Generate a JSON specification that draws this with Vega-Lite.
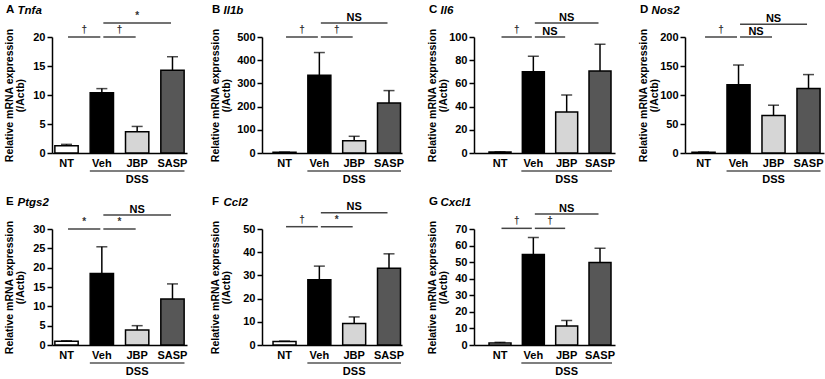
{
"$schema":"https://vega.github.io/schema/vega-lite/v6.json",
"padding":{"left":3,"top":3,"right":2,"bottom":0},
"background":"white",
"config":{"view":{"stroke":null},"font":"Liberation Sans",
"title":{"font":"Liberation Sans","fontSize":11.5,"fontWeight":"bold","anchor":"start","frame":"bounds","color":"black","offset":0,"baseline":"alphabetic","dy":15,"dx":2},
"axis":{"labelFont":"Liberation Sans","titleFont":"Liberation Sans","labelFontWeight":"bold","titleFontWeight":"bold","labelColor":"black","titleColor":"black","domainColor":"black","tickColor":"black","grid":false},
"axisY":{"titleFontSize":10.5,"titleLineHeight":11.5,"titleAngle":270,"titleBaseline":"bottom","labelFontSize":11,"tickSize":5,"tickWidth":1.5,"domainWidth":1.5,"labelPadding":2,"tickCount":5},
"axisX":{"labelFontSize":11}},
"datasets":{
"bars":[
{"panel":"A","group":"NT","mean":1.26,"upper":1.49},{"panel":"A","group":"Veh","mean":10.37,"upper":11.1},{"panel":"A","group":"JBP","mean":3.67,"upper":4.58},{"panel":"A","group":"SASP","mean":14.27,"upper":16.6},
{"panel":"B","group":"NT","mean":3,"upper":4},{"panel":"B","group":"Veh","mean":335,"upper":433},{"panel":"B","group":"JBP","mean":53,"upper":72},{"panel":"B","group":"SASP","mean":216,"upper":269},
{"panel":"C","group":"NT","mean":0.8,"upper":1.0},{"panel":"C","group":"Veh","mean":70,"upper":83.3},{"panel":"C","group":"JBP","mean":35.3,"upper":50},{"panel":"C","group":"SASP","mean":70.7,"upper":93.7},
{"panel":"D","group":"NT","mean":1.5,"upper":1.8},{"panel":"D","group":"Veh","mean":117.6,"upper":151.7},{"panel":"D","group":"JBP","mean":64.8,"upper":82.4},{"panel":"D","group":"SASP","mean":111.4,"upper":135.2},
{"panel":"E","group":"NT","mean":1.0,"upper":1.1},{"panel":"E","group":"Veh","mean":18.5,"upper":25.4},{"panel":"E","group":"JBP","mean":3.86,"upper":5.0},{"panel":"E","group":"SASP","mean":11.9,"upper":15.8},
{"panel":"F","group":"NT","mean":1.5,"upper":1.7},{"panel":"F","group":"Veh","mean":28.1,"upper":34.0},{"panel":"F","group":"JBP","mean":9.3,"upper":12.1},{"panel":"F","group":"SASP","mean":33.1,"upper":39.3},
{"panel":"G","group":"NT","mean":1.2,"upper":1.6},{"panel":"G","group":"Veh","mean":54.6,"upper":64.8},{"panel":"G","group":"JBP","mean":11.4,"upper":14.8},{"panel":"G","group":"SASP","mean":49.8,"upper":58.4}],
"sig":[
{"panel":"A","from":0,"to":1,"mid":0.5,"y":20,"label":"†"},{"panel":"A","from":1,"to":2,"mid":1.5,"y":20,"label":"†"},{"panel":"A","from":1,"to":3,"mid":2,"y":22.4,"label":"*"},
{"panel":"B","from":0,"to":1,"mid":0.5,"y":500,"label":"†"},{"panel":"B","from":1,"to":2,"mid":1.5,"y":500,"label":"†"},{"panel":"B","from":1,"to":3,"mid":2,"y":560,"label":"NS"},
{"panel":"C","from":0,"to":1,"mid":0.5,"y":100,"label":"†"},{"panel":"C","from":1,"to":2,"mid":1.5,"y":100,"label":"NS"},{"panel":"C","from":1,"to":3,"mid":2,"y":112,"label":"NS"},
{"panel":"D","from":0,"to":1,"mid":0.5,"y":200,"label":"†"},{"panel":"D","from":1,"to":2,"mid":1.5,"y":200,"label":"NS"},{"panel":"D","from":1,"to":3,"mid":2,"y":222,"label":"NS"},
{"panel":"E","from":0,"to":1,"mid":0.5,"y":30,"label":"*"},{"panel":"E","from":1,"to":2,"mid":1.5,"y":30,"label":"*"},{"panel":"E","from":1,"to":3,"mid":2,"y":33.6,"label":"NS"},
{"panel":"F","from":0,"to":1,"mid":0.5,"y":51,"label":"†"},{"panel":"F","from":1,"to":2,"mid":1.5,"y":51,"label":"*"},{"panel":"F","from":1,"to":3,"mid":2,"y":57,"label":"NS"},
{"panel":"G","from":0,"to":1,"mid":0.5,"y":70.4,"label":"†"},{"panel":"G","from":1,"to":2,"mid":1.5,"y":70.4,"label":"†"},{"panel":"G","from":1,"to":3,"mid":2,"y":79,"label":"NS"}],
"dss":[{"from":1,"to":3,"mid":2,"label":"DSS"}]
},
"columns":4,
"align":"each",
"spacing":{"row":10,"column":22},
"concat":[
{"title":{"text":"A"},"width":135,"height":116,"resolve":{"scale":{"x":"independent"}},
"layer":[
{"data":{"name":"bars"},"transform":[{"filter":"datum.panel === 'A'"}],
"encoding":{"x":{"field":"group","type":"nominal","sort":["NT","Veh","JBP","SASP"],"scale":{"paddingInner":0.34,"paddingOuter":0.081,"align":0.5},"axis":{"title":null,"ticks":false,"labelAngle":0,"labelPadding":4,"domainWidth":1.5}}},
"layer":[
{"mark":{"type":"bar","stroke":"black","strokeWidth":1.5},"encoding":{"y":{"field":"mean","type":"quantitative","scale":{"domain":[0,20],"nice":false},"axis":{"title":["Relative mRNA expression","(/Actb)"],"titleX":-38}},"fill":{"field":"group","type":"nominal","scale":{"domain":["NT","Veh","JBP","SASP"],"range":["#ffffff","#000000","#d6d6d6","#575757"]},"legend":null}}},
{"mark":{"type":"rule","strokeWidth":1.5,"color":"black"},"encoding":{"y":{"field":"mean","type":"quantitative"},"y2":{"field":"upper"}}},
{"mark":{"type":"tick","thickness":1.5,"size":11,"color":"black"},"encoding":{"y":{"field":"upper","type":"quantitative"}}}]},
{"layer":[
{"data":{"name":"sig"},"transform":[{"filter":"datum.panel === 'A'"}],"mark":{"type":"rule","strokeWidth":1.5,"color":"#444444","xOffset":1.5,"x2Offset":-1.5},"encoding":{"x":{"field":"from","type":"quantitative","scale":{"domain":[-0.411,3.411],"nice":false,"zero":false},"axis":{"orient":"top","title":"Tnfa","labels":false,"ticks":false,"domain":false,"titleFontStyle":"italic","titleFontSize":11.5,"titleX":-35,"titleY":-24,"titleAlign":"left","titleAngle":0,"titleBaseline":"alphabetic"}},"x2":{"field":"to"},"y":{"field":"y","type":"quantitative"}}},
{"data":{"name":"sig"},"transform":[{"filter":"datum.panel === 'A' && datum.label !== 'NS'"}],"mark":{"type":"text","baseline":"alphabetic","dy":-4,"fontSize":10,"fontWeight":"bold","color":"#333333"},"encoding":{"x":{"field":"mid","type":"quantitative"},"y":{"field":"y","type":"quantitative"},"text":{"field":"label"}}},
{"data":{"name":"sig"},"transform":[{"filter":"datum.panel === 'A' && datum.label === 'NS'"}],"mark":{"type":"text","baseline":"alphabetic","dy":-2.5,"fontSize":11,"fontWeight":"bold","color":"black"},"encoding":{"x":{"field":"mid","type":"quantitative"},"y":{"field":"y","type":"quantitative"},"text":{"field":"label"}}},
{"data":{"name":"dss"},"mark":{"type":"rule","strokeWidth":1.2,"color":"black","xOffset":-12,"x2Offset":12,"yOffset":18},"encoding":{"x":{"field":"from","type":"quantitative"},"x2":{"field":"to"},"y":{"datum":0,"type":"quantitative"}}},
{"data":{"name":"dss"},"mark":{"type":"text","yOffset":27,"baseline":"middle","fontSize":11,"fontWeight":"bold","color":"black"},"encoding":{"x":{"field":"mid","type":"quantitative"},"y":{"datum":0,"type":"quantitative"},"text":{"field":"label"}}}]}]},
{"title":{"text":"B"},"width":140,"height":116,"resolve":{"scale":{"x":"independent"}},
"layer":[
{"data":{"name":"bars"},"transform":[{"filter":"datum.panel === 'B'"}],
"encoding":{"x":{"field":"group","type":"nominal","sort":["NT","Veh","JBP","SASP"],"scale":{"paddingInner":0.34,"paddingOuter":0.18,"align":0.88},"axis":{"title":null,"ticks":false,"labelAngle":0,"labelPadding":4,"domainWidth":1.5}}},
"layer":[
{"mark":{"type":"bar","stroke":"black","strokeWidth":1.5},"encoding":{"y":{"field":"mean","type":"quantitative","scale":{"domain":[0,500],"nice":false},"axis":{"title":["Relative mRNA expression","(/Actb)"],"titleX":-42}},"fill":{"field":"group","type":"nominal","scale":{"domain":["NT","Veh","JBP","SASP"],"range":["#ffffff","#000000","#d6d6d6","#575757"]},"legend":null}}},
{"mark":{"type":"rule","strokeWidth":1.5,"color":"black"},"encoding":{"y":{"field":"mean","type":"quantitative"},"y2":{"field":"upper"}}},
{"mark":{"type":"tick","thickness":1.5,"size":11,"color":"black"},"encoding":{"y":{"field":"upper","type":"quantitative"}}}]},
{"layer":[
{"data":{"name":"sig"},"transform":[{"filter":"datum.panel === 'B'"}],"mark":{"type":"rule","strokeWidth":1.5,"color":"#444444","xOffset":1.5,"x2Offset":-1.5},"encoding":{"x":{"field":"from","type":"quantitative","scale":{"domain":[-0.647,3.373],"nice":false,"zero":false},"axis":{"orient":"top","title":"Il1b","labels":false,"ticks":false,"domain":false,"titleFontStyle":"italic","titleFontSize":11.5,"titleX":-39,"titleY":-24,"titleAlign":"left","titleAngle":0,"titleBaseline":"alphabetic"}},"x2":{"field":"to"},"y":{"field":"y","type":"quantitative"}}},
{"data":{"name":"sig"},"transform":[{"filter":"datum.panel === 'B' && datum.label !== 'NS'"}],"mark":{"type":"text","baseline":"alphabetic","dy":-4,"fontSize":10,"fontWeight":"bold","color":"#333333"},"encoding":{"x":{"field":"mid","type":"quantitative"},"y":{"field":"y","type":"quantitative"},"text":{"field":"label"}}},
{"data":{"name":"sig"},"transform":[{"filter":"datum.panel === 'B' && datum.label === 'NS'"}],"mark":{"type":"text","baseline":"alphabetic","dy":-2.5,"fontSize":11,"fontWeight":"bold","color":"black"},"encoding":{"x":{"field":"mid","type":"quantitative"},"y":{"field":"y","type":"quantitative"},"text":{"field":"label"}}},
{"data":{"name":"dss"},"mark":{"type":"rule","strokeWidth":1.2,"color":"black","xOffset":-12,"x2Offset":12,"yOffset":18},"encoding":{"x":{"field":"from","type":"quantitative"},"x2":{"field":"to"},"y":{"datum":0,"type":"quantitative"}}},
{"data":{"name":"dss"},"mark":{"type":"text","yOffset":27,"baseline":"middle","fontSize":11,"fontWeight":"bold","color":"black"},"encoding":{"x":{"field":"mid","type":"quantitative"},"y":{"datum":0,"type":"quantitative"},"text":{"field":"label"}}}]}]},
{"title":{"text":"C"},"width":141,"height":116,"resolve":{"scale":{"x":"independent"}},
"layer":[
{"data":{"name":"bars"},"transform":[{"filter":"datum.panel === 'C'"}],
"encoding":{"x":{"field":"group","type":"nominal","sort":["NT","Veh","JBP","SASP"],"scale":{"paddingInner":0.34,"paddingOuter":0.285,"align":0.79},"axis":{"title":null,"ticks":false,"labelAngle":0,"labelPadding":4,"domainWidth":1.5}}},
"layer":[
{"mark":{"type":"bar","stroke":"black","strokeWidth":1.5},"encoding":{"y":{"field":"mean","type":"quantitative","scale":{"domain":[0,100],"nice":false},"axis":{"title":["Relative mRNA expression","(/Actb)"],"titleX":-37}},"fill":{"field":"group","type":"nominal","scale":{"domain":["NT","Veh","JBP","SASP"],"range":["#ffffff","#000000","#d6d6d6","#575757"]},"legend":null}}},
{"mark":{"type":"rule","strokeWidth":1.5,"color":"black"},"encoding":{"y":{"field":"mean","type":"quantitative"},"y2":{"field":"upper"}}},
{"mark":{"type":"tick","thickness":1.5,"size":11,"color":"black"},"encoding":{"y":{"field":"upper","type":"quantitative"}}}]},
{"layer":[
{"data":{"name":"sig"},"transform":[{"filter":"datum.panel === 'C'"}],"mark":{"type":"rule","strokeWidth":1.5,"color":"#444444","xOffset":1.5,"x2Offset":-1.5},"encoding":{"x":{"field":"from","type":"quantitative","scale":{"domain":[-0.78,3.45],"nice":false,"zero":false},"axis":{"orient":"top","title":"Il6","labels":false,"ticks":false,"domain":false,"titleFontStyle":"italic","titleFontSize":11.5,"titleX":-34,"titleY":-24,"titleAlign":"left","titleAngle":0,"titleBaseline":"alphabetic"}},"x2":{"field":"to"},"y":{"field":"y","type":"quantitative"}}},
{"data":{"name":"sig"},"transform":[{"filter":"datum.panel === 'C' && datum.label !== 'NS'"}],"mark":{"type":"text","baseline":"alphabetic","dy":-4,"fontSize":10,"fontWeight":"bold","color":"#333333"},"encoding":{"x":{"field":"mid","type":"quantitative"},"y":{"field":"y","type":"quantitative"},"text":{"field":"label"}}},
{"data":{"name":"sig"},"transform":[{"filter":"datum.panel === 'C' && datum.label === 'NS'"}],"mark":{"type":"text","baseline":"alphabetic","dy":-2.5,"fontSize":11,"fontWeight":"bold","color":"black"},"encoding":{"x":{"field":"mid","type":"quantitative"},"y":{"field":"y","type":"quantitative"},"text":{"field":"label"}}},
{"data":{"name":"dss"},"mark":{"type":"rule","strokeWidth":1.2,"color":"black","xOffset":-12,"x2Offset":12,"yOffset":18},"encoding":{"x":{"field":"from","type":"quantitative"},"x2":{"field":"to"},"y":{"datum":0,"type":"quantitative"}}},
{"data":{"name":"dss"},"mark":{"type":"text","yOffset":27,"baseline":"middle","fontSize":11,"fontWeight":"bold","color":"black"},"encoding":{"x":{"field":"mid","type":"quantitative"},"y":{"datum":0,"type":"quantitative"},"text":{"field":"label"}}}]}]},
{"title":{"text":"D"},"width":139,"height":116,"resolve":{"scale":{"x":"independent"}},
"layer":[
{"data":{"name":"bars"},"transform":[{"filter":"datum.panel === 'D'"}],
"encoding":{"x":{"field":"group","type":"nominal","sort":["NT","Veh","JBP","SASP"],"scale":{"paddingInner":0.34,"paddingOuter":0.156,"align":0.64},"axis":{"title":null,"ticks":false,"labelAngle":0,"labelPadding":4,"domainWidth":1.5}}},
"layer":[
{"mark":{"type":"bar","stroke":"black","strokeWidth":1.5},"encoding":{"y":{"field":"mean","type":"quantitative","scale":{"domain":[0,200],"nice":false},"axis":{"title":["Relative mRNA expression","(/Actb)"],"titleX":-37}},"fill":{"field":"group","type":"nominal","scale":{"domain":["NT","Veh","JBP","SASP"],"range":["#ffffff","#000000","#d6d6d6","#575757"]},"legend":null}}},
{"mark":{"type":"rule","strokeWidth":1.5,"color":"black"},"encoding":{"y":{"field":"mean","type":"quantitative"},"y2":{"field":"upper"}}},
{"mark":{"type":"tick","thickness":1.5,"size":11,"color":"black"},"encoding":{"y":{"field":"upper","type":"quantitative"}}}]},
{"layer":[
{"data":{"name":"sig"},"transform":[{"filter":"datum.panel === 'D'"}],"mark":{"type":"rule","strokeWidth":1.5,"color":"#444444","xOffset":1.5,"x2Offset":-1.5},"encoding":{"x":{"field":"from","type":"quantitative","scale":{"domain":[-0.53,3.442],"nice":false,"zero":false},"axis":{"orient":"top","title":"Nos2","labels":false,"ticks":false,"domain":false,"titleFontStyle":"italic","titleFontSize":11.5,"titleX":-34,"titleY":-24,"titleAlign":"left","titleAngle":0,"titleBaseline":"alphabetic"}},"x2":{"field":"to"},"y":{"field":"y","type":"quantitative"}}},
{"data":{"name":"sig"},"transform":[{"filter":"datum.panel === 'D' && datum.label !== 'NS'"}],"mark":{"type":"text","baseline":"alphabetic","dy":-4,"fontSize":10,"fontWeight":"bold","color":"#333333"},"encoding":{"x":{"field":"mid","type":"quantitative"},"y":{"field":"y","type":"quantitative"},"text":{"field":"label"}}},
{"data":{"name":"sig"},"transform":[{"filter":"datum.panel === 'D' && datum.label === 'NS'"}],"mark":{"type":"text","baseline":"alphabetic","dy":-2.5,"fontSize":11,"fontWeight":"bold","color":"black"},"encoding":{"x":{"field":"mid","type":"quantitative"},"y":{"field":"y","type":"quantitative"},"text":{"field":"label"}}},
{"data":{"name":"dss"},"mark":{"type":"rule","strokeWidth":1.2,"color":"black","xOffset":-12,"x2Offset":12,"yOffset":18},"encoding":{"x":{"field":"from","type":"quantitative"},"x2":{"field":"to"},"y":{"datum":0,"type":"quantitative"}}},
{"data":{"name":"dss"},"mark":{"type":"text","yOffset":27,"baseline":"middle","fontSize":11,"fontWeight":"bold","color":"black"},"encoding":{"x":{"field":"mid","type":"quantitative"},"y":{"datum":0,"type":"quantitative"},"text":{"field":"label"}}}]}]},
{"title":{"text":"E"},"width":135,"height":116,"resolve":{"scale":{"x":"independent"}},
"layer":[
{"data":{"name":"bars"},"transform":[{"filter":"datum.panel === 'E'"}],
"encoding":{"x":{"field":"group","type":"nominal","sort":["NT","Veh","JBP","SASP"],"scale":{"paddingInner":0.34,"paddingOuter":0.081,"align":0.5},"axis":{"title":null,"ticks":false,"labelAngle":0,"labelPadding":4,"domainWidth":1.5}}},
"layer":[
{"mark":{"type":"bar","stroke":"black","strokeWidth":1.5},"encoding":{"y":{"field":"mean","type":"quantitative","scale":{"domain":[0,30],"nice":false},"axis":{"title":["Relative mRNA expression","(/Actb)"],"titleX":-38}},"fill":{"field":"group","type":"nominal","scale":{"domain":["NT","Veh","JBP","SASP"],"range":["#ffffff","#000000","#d6d6d6","#575757"]},"legend":null}}},
{"mark":{"type":"rule","strokeWidth":1.5,"color":"black"},"encoding":{"y":{"field":"mean","type":"quantitative"},"y2":{"field":"upper"}}},
{"mark":{"type":"tick","thickness":1.5,"size":11,"color":"black"},"encoding":{"y":{"field":"upper","type":"quantitative"}}}]},
{"layer":[
{"data":{"name":"sig"},"transform":[{"filter":"datum.panel === 'E'"}],"mark":{"type":"rule","strokeWidth":1.5,"color":"#444444","xOffset":1.5,"x2Offset":-1.5},"encoding":{"x":{"field":"from","type":"quantitative","scale":{"domain":[-0.411,3.411],"nice":false,"zero":false},"axis":{"orient":"top","title":"Ptgs2","labels":false,"ticks":false,"domain":false,"titleFontStyle":"italic","titleFontSize":11.5,"titleX":-35,"titleY":-24,"titleAlign":"left","titleAngle":0,"titleBaseline":"alphabetic"}},"x2":{"field":"to"},"y":{"field":"y","type":"quantitative"}}},
{"data":{"name":"sig"},"transform":[{"filter":"datum.panel === 'E' && datum.label !== 'NS'"}],"mark":{"type":"text","baseline":"alphabetic","dy":-4,"fontSize":10,"fontWeight":"bold","color":"#333333"},"encoding":{"x":{"field":"mid","type":"quantitative"},"y":{"field":"y","type":"quantitative"},"text":{"field":"label"}}},
{"data":{"name":"sig"},"transform":[{"filter":"datum.panel === 'E' && datum.label === 'NS'"}],"mark":{"type":"text","baseline":"alphabetic","dy":-2.5,"fontSize":11,"fontWeight":"bold","color":"black"},"encoding":{"x":{"field":"mid","type":"quantitative"},"y":{"field":"y","type":"quantitative"},"text":{"field":"label"}}},
{"data":{"name":"dss"},"mark":{"type":"rule","strokeWidth":1.2,"color":"black","xOffset":-12,"x2Offset":12,"yOffset":18},"encoding":{"x":{"field":"from","type":"quantitative"},"x2":{"field":"to"},"y":{"datum":0,"type":"quantitative"}}},
{"data":{"name":"dss"},"mark":{"type":"text","yOffset":27,"baseline":"middle","fontSize":11,"fontWeight":"bold","color":"black"},"encoding":{"x":{"field":"mid","type":"quantitative"},"y":{"datum":0,"type":"quantitative"},"text":{"field":"label"}}}]}]},
{"title":{"text":"F"},"width":140,"height":116,"resolve":{"scale":{"x":"independent"}},
"layer":[
{"data":{"name":"bars"},"transform":[{"filter":"datum.panel === 'F'"}],
"encoding":{"x":{"field":"group","type":"nominal","sort":["NT","Veh","JBP","SASP"],"scale":{"paddingInner":0.34,"paddingOuter":0.18,"align":0.88},"axis":{"title":null,"ticks":false,"labelAngle":0,"labelPadding":4,"domainWidth":1.5}}},
"layer":[
{"mark":{"type":"bar","stroke":"black","strokeWidth":1.5},"encoding":{"y":{"field":"mean","type":"quantitative","scale":{"domain":[0,50],"nice":false},"axis":{"title":["Relative mRNA expression","(/Actb)"],"titleX":-42}},"fill":{"field":"group","type":"nominal","scale":{"domain":["NT","Veh","JBP","SASP"],"range":["#ffffff","#000000","#d6d6d6","#575757"]},"legend":null}}},
{"mark":{"type":"rule","strokeWidth":1.5,"color":"black"},"encoding":{"y":{"field":"mean","type":"quantitative"},"y2":{"field":"upper"}}},
{"mark":{"type":"tick","thickness":1.5,"size":11,"color":"black"},"encoding":{"y":{"field":"upper","type":"quantitative"}}}]},
{"layer":[
{"data":{"name":"sig"},"transform":[{"filter":"datum.panel === 'F'"}],"mark":{"type":"rule","strokeWidth":1.5,"color":"#444444","xOffset":1.5,"x2Offset":-1.5},"encoding":{"x":{"field":"from","type":"quantitative","scale":{"domain":[-0.647,3.373],"nice":false,"zero":false},"axis":{"orient":"top","title":"Ccl2","labels":false,"ticks":false,"domain":false,"titleFontStyle":"italic","titleFontSize":11.5,"titleX":-39,"titleY":-24,"titleAlign":"left","titleAngle":0,"titleBaseline":"alphabetic"}},"x2":{"field":"to"},"y":{"field":"y","type":"quantitative"}}},
{"data":{"name":"sig"},"transform":[{"filter":"datum.panel === 'F' && datum.label !== 'NS'"}],"mark":{"type":"text","baseline":"alphabetic","dy":-4,"fontSize":10,"fontWeight":"bold","color":"#333333"},"encoding":{"x":{"field":"mid","type":"quantitative"},"y":{"field":"y","type":"quantitative"},"text":{"field":"label"}}},
{"data":{"name":"sig"},"transform":[{"filter":"datum.panel === 'F' && datum.label === 'NS'"}],"mark":{"type":"text","baseline":"alphabetic","dy":-2.5,"fontSize":11,"fontWeight":"bold","color":"black"},"encoding":{"x":{"field":"mid","type":"quantitative"},"y":{"field":"y","type":"quantitative"},"text":{"field":"label"}}},
{"data":{"name":"dss"},"mark":{"type":"rule","strokeWidth":1.2,"color":"black","xOffset":-12,"x2Offset":12,"yOffset":18},"encoding":{"x":{"field":"from","type":"quantitative"},"x2":{"field":"to"},"y":{"datum":0,"type":"quantitative"}}},
{"data":{"name":"dss"},"mark":{"type":"text","yOffset":27,"baseline":"middle","fontSize":11,"fontWeight":"bold","color":"black"},"encoding":{"x":{"field":"mid","type":"quantitative"},"y":{"datum":0,"type":"quantitative"},"text":{"field":"label"}}}]}]},
{"title":{"text":"G"},"width":141,"height":116,"resolve":{"scale":{"x":"independent"}},
"layer":[
{"data":{"name":"bars"},"transform":[{"filter":"datum.panel === 'G'"}],
"encoding":{"x":{"field":"group","type":"nominal","sort":["NT","Veh","JBP","SASP"],"scale":{"paddingInner":0.34,"paddingOuter":0.285,"align":0.79},"axis":{"title":null,"ticks":false,"labelAngle":0,"labelPadding":4,"domainWidth":1.5}}},
"layer":[
{"mark":{"type":"bar","stroke":"black","strokeWidth":1.5},"encoding":{"y":{"field":"mean","type":"quantitative","scale":{"domain":[0,70],"nice":false},"axis":{"title":["Relative mRNA expression","(/Actb)"],"titleX":-37}},"fill":{"field":"group","type":"nominal","scale":{"domain":["NT","Veh","JBP","SASP"],"range":["#ffffff","#000000","#d6d6d6","#575757"]},"legend":null}}},
{"mark":{"type":"rule","strokeWidth":1.5,"color":"black"},"encoding":{"y":{"field":"mean","type":"quantitative"},"y2":{"field":"upper"}}},
{"mark":{"type":"tick","thickness":1.5,"size":11,"color":"black"},"encoding":{"y":{"field":"upper","type":"quantitative"}}}]},
{"layer":[
{"data":{"name":"sig"},"transform":[{"filter":"datum.panel === 'G'"}],"mark":{"type":"rule","strokeWidth":1.5,"color":"#444444","xOffset":1.5,"x2Offset":-1.5},"encoding":{"x":{"field":"from","type":"quantitative","scale":{"domain":[-0.78,3.45],"nice":false,"zero":false},"axis":{"orient":"top","title":"Cxcl1","labels":false,"ticks":false,"domain":false,"titleFontStyle":"italic","titleFontSize":11.5,"titleX":-34,"titleY":-24,"titleAlign":"left","titleAngle":0,"titleBaseline":"alphabetic"}},"x2":{"field":"to"},"y":{"field":"y","type":"quantitative"}}},
{"data":{"name":"sig"},"transform":[{"filter":"datum.panel === 'G' && datum.label !== 'NS'"}],"mark":{"type":"text","baseline":"alphabetic","dy":-4,"fontSize":10,"fontWeight":"bold","color":"#333333"},"encoding":{"x":{"field":"mid","type":"quantitative"},"y":{"field":"y","type":"quantitative"},"text":{"field":"label"}}},
{"data":{"name":"sig"},"transform":[{"filter":"datum.panel === 'G' && datum.label === 'NS'"}],"mark":{"type":"text","baseline":"alphabetic","dy":-2.5,"fontSize":11,"fontWeight":"bold","color":"black"},"encoding":{"x":{"field":"mid","type":"quantitative"},"y":{"field":"y","type":"quantitative"},"text":{"field":"label"}}},
{"data":{"name":"dss"},"mark":{"type":"rule","strokeWidth":1.2,"color":"black","xOffset":-12,"x2Offset":12,"yOffset":18},"encoding":{"x":{"field":"from","type":"quantitative"},"x2":{"field":"to"},"y":{"datum":0,"type":"quantitative"}}},
{"data":{"name":"dss"},"mark":{"type":"text","yOffset":27,"baseline":"middle","fontSize":11,"fontWeight":"bold","color":"black"},"encoding":{"x":{"field":"mid","type":"quantitative"},"y":{"datum":0,"type":"quantitative"},"text":{"field":"label"}}}]}]}
]
}
